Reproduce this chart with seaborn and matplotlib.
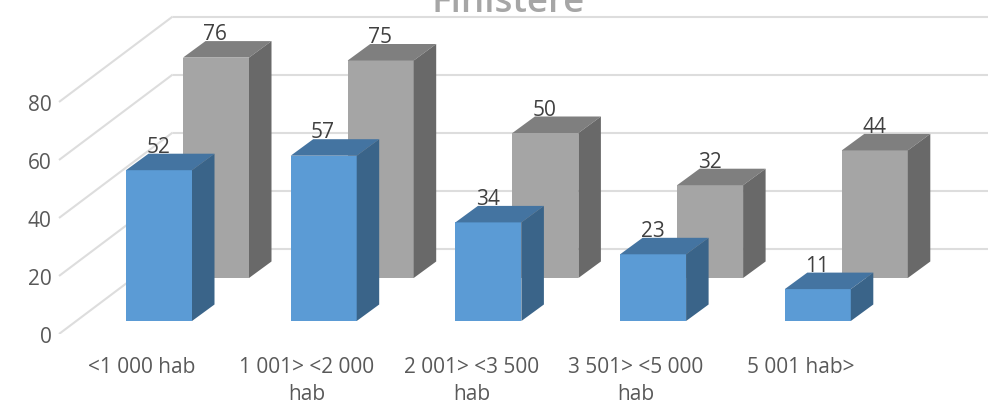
import matplotlib
matplotlib.use("Agg")
import matplotlib.pyplot as plt
import seaborn as sns

from matplotlib.transforms import ScaledTranslation

categories = ["<1 000 hab", "1 001> <2 000\nhab", "2 001> <3 500\nhab", "3 501> <5 000\nhab", "5 001 hab>"]
front_values = [52, 57, 34, 23, 11]
back_values = [76, 75, 50, 32, 44]
y_ticks = [0, 20, 40, 60, 80]
title = "Finistère"

W, H, DPI = 988, 405, 100
PX_PER_UNIT = 2.9
PX_PER_CAT = 164.7
DEPTH_X_PX, DEPTH_Y_PX = 22.5, 16.5
FS = 15

sns.set_theme(style="white", rc={"axes.facecolor": "none", "figure.facecolor": "white"})
plt.rcParams["font.family"] = ["Open Sans", "DejaVu Sans"]

fig = plt.figure(figsize=(W / DPI, H / DPI), dpi=DPI)


def px_axes(left, base_px, zorder):
    """Axes whose value 0 sits at pixel row base_px, and which reaches the top of the figure."""
    ax = fig.add_axes([left / W, (H - base_px) / H, 1, base_px / H], zorder=zorder)
    ax.set_facecolor("none")
    ax.set_ylim(0, base_px / PX_PER_UNIT)
    sns.despine(ax=ax, left=True, bottom=True, top=True, right=True)
    return ax


# wall: gridlines and value axis
wall = px_axes(0, 334, 0)
wall.set_xlim(0, W)
wall.set_yticks(y_ticks)
wall.set_xticks([])
wall.tick_params(axis="y", length=0, pad=-37, labelsize=FS, labelcolor="#595959")
for lab in wall.get_yticklabels():
    lab.set_ha("right")
    lab.set_transform(lab.get_transform() + ScaledTranslation(0, -1 / DPI, fig.dpi_scale_trans))
GRID = dict(color="#DDDDDD", lw=1.5, solid_capstyle="butt")
rise = 85.5 / PX_PER_UNIT
for v in y_ticks:
    wall.plot([59, 172.7], [v, v + rise], **GRID)
    wall.plot([172.7, W], [v + rise, v + rise], **GRID)


def draw_series(ax, values, face, top, side, base_px):
    sns.barplot(x=categories, y=values, ax=ax, color=face, saturation=1, width=66 / PX_PER_CAT, linewidth=0)
    ax.set_xlim(-159 / PX_PER_CAT, (W - 159) / PX_PER_CAT)
    ax.set_ylim(0, base_px / PX_PER_UNIT)
    ax.set_ylabel("")
    dx = DEPTH_X_PX / PX_PER_CAT
    dy = DEPTH_Y_PX / PX_PER_UNIT
    for bar, v in zip(ax.patches, values):
        x0 = bar.get_x()
        x1 = x0 + bar.get_width()
        ax.fill([x0, x1, x1 + dx, x0 + dx], [v, v, v + dy, v + dy], color=top, lw=0)
        ax.fill([x1, x1 + dx, x1 + dx, x1], [0, dy, v + dy, v], color=side, lw=0)
        ax.text((x0 + x1) / 2 - 0.004, v + 6.0, str(v), ha="center", va="baseline", fontsize=FS, color="#404040")
    ax.set_yticks([])


back = px_axes(57, 278, 1)
draw_series(back, back_values, "#A5A5A5", "#7F7F7F", "#696969", 278)
back.set_xticks([])
back.set_xlabel("")

front = px_axes(0, 321, 2)
draw_series(front, front_values, "#5B9BD5", "#4474A1", "#3A6489", 321)
front.tick_params(axis="x", length=0, pad=26, labelsize=FS, labelcolor="#595959")
for lab in front.get_xticklabels():
    lab.set_transform(lab.get_transform() + ScaledTranslation(-17 / DPI, 0, fig.dpi_scale_trans))
    lab.set_linespacing(1.35)

fig.text(508 / W, 1 - 12.5 / H, title, ha="center", va="baseline", fontsize=26.5, color="#A6A6A6", fontweight="semibold")

fig.savefig("out.png", dpi=DPI)
